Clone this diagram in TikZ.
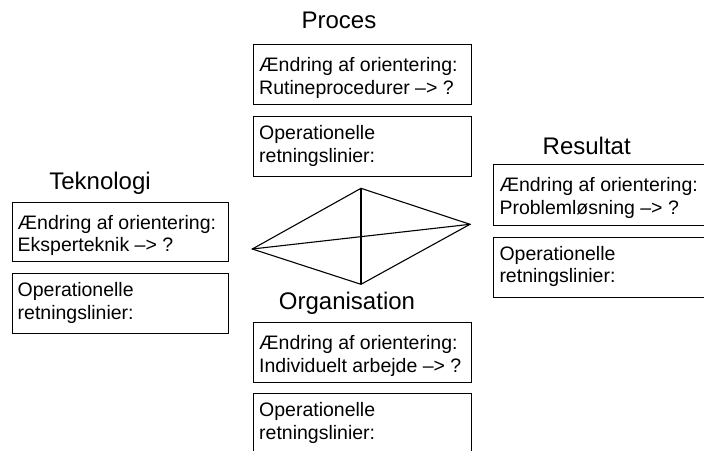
\documentclass[tikz,border=0pt]{standalone}
\usepackage{fontspec}
\setmainfont{Liberation Sans}
\newcommand{\twolines}[2]{\begin{tabular}[t]{@{}l@{}}#1\\#2\end{tabular}}
\begin{document}
\begin{tikzpicture}[x=1pt,y=-1pt,
  title/.style={font=\fontsize{24}{28}\selectfont, inner sep=0pt, anchor=base},
  infobox/.style={draw=black, line width=1.1pt, rectangle, inner sep=0pt, anchor=north west, minimum width=218pt, minimum height=60pt},
  infotext/.style={font=\fontsize{19.5}{22.8}\selectfont, inner sep=0pt, anchor=base west},
  edge/.style={line width=1.1pt, black}]
\useasboundingbox (0,0) rectangle (704,450);
\clip (0,0) rectangle (704,450);

% Proces
\node[title] (ptitle) at (339,28.3) {Proces};
\node[infobox, minimum height=60pt] (pbox1) at (253,44) {};
\node[infotext] (ptext1) at ([xshift=6pt,yshift=-27.5pt]pbox1.north west) {\twolines{Ændring af orientering:}{Rutineprocedurer –> ?}};
\node[infobox, minimum height=60pt] (pbox2) at (253,116) {};
\node[infotext] (ptext2) at ([xshift=6pt,yshift=-23.5pt]pbox2.north west) {\twolines{Operationelle}{retningslinier:}};

% Teknologi
\node[title] (ttitle) at (100,189.5) {Teknologi};
\node[infobox, minimum width=216.5pt, minimum height=59.5pt] (tbox1) at (11.5,201.5) {};
\node[infotext] (ttext1) at ([xshift=6pt,yshift=-27.5pt]tbox1.north west) {\twolines{Ændring af orientering:}{Eksperteknik –> ?}};
\node[infobox, minimum width=216.5pt, minimum height=60pt] (tbox2) at (11.5,273) {};
\node[infotext] (ttext2) at ([xshift=6pt,yshift=-23.5pt]tbox2.north west) {\twolines{Operationelle}{retningslinier:}};

% Resultat
\node[title] (rtitle) at (586.7,154.5) {Resultat};
\node[infobox, minimum width=230pt, minimum height=61pt] (rbox1) at (493.3,164) {};
\node[infotext] (rtext1) at ([xshift=6pt,yshift=-27.5pt]rbox1.north west) {\twolines{Ændring af orientering:}{Problemløsning –> ?}};
\node[infobox, minimum width=230pt, minimum height=60.5pt] (rbox2) at (493.3,236.5) {};
\node[infotext] (rtext2) at ([xshift=6pt,yshift=-23.5pt]rbox2.north west) {\twolines{Operationelle}{retningslinier:}};

% Organisation
\node[title] (otitle) at (347,309.5) {Organisation};
\node[infobox, minimum height=59.5pt] (obox1) at (253,322) {};
\node[infotext] (otext1) at ([xshift=6pt,yshift=-27.5pt]obox1.north west) {\twolines{Ændring af orientering:}{Individuelt arbejde –> ?}};
\node[infobox, minimum height=80pt] (obox2) at (253,393) {};
\node[infotext] (otext2) at ([xshift=6pt,yshift=-23.5pt]obox2.north west) {\twolines{Operationelle}{retningslinier:}};

% Diamond linking the four areas
\coordinate (dtop) at (361,188.3);
\coordinate (dleft) at (252.3,249);
\coordinate (dright) at (470,224.3);
\coordinate (dbottom) at (361,284.3);
\draw[edge, line join=miter] (dtop) -- (dright) -- (dbottom) -- (dleft) -- cycle;
\draw[edge] (dtop) -- (dbottom);
\draw[edge] (dleft) -- (dright);
\end{tikzpicture}
\end{document}
